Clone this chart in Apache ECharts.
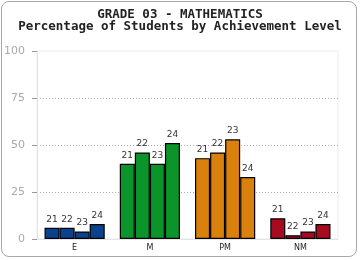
<!DOCTYPE html>
<html><head><meta charset="utf-8">
<script src="https://cdn.jsdelivr.net/npm/echarts@6/dist/echarts.min.js"></script>
<style>
html,body{margin:0;padding:0;background:#fff;}
#frame{position:absolute;left:1px;top:1px;width:356px;height:256px;border:1px solid #a8a8a8;border-radius:8px;box-sizing:border-box;}
#c{position:absolute;left:0;top:0;width:360px;height:260px;}
</style>
</head><body>
<div id="frame"></div>
<div id="c"></div>
<script>
var titleLines = ['GRADE 03 - MATHEMATICS', 'Percentage of Students by Achievement Level'];
var categories = ['E', 'M', 'PM', 'NM'];
var categoryColors = ['#0b4290', '#0b9429', '#da800c', '#a60b20'];
var years = ['21', '22', '23', '24'];
var values = {
  '21': [6, 40, 43, 11],
  '22': [6, 46, 46, 2],
  '23': [4, 40, 53, 4],
  '24': [8, 51, 33, 8]
};
var yTicks = [0, 25, 50, 75, 100];

var chart = echarts.init(document.getElementById('c'), null, {renderer: 'canvas'});
var series = years.map(function (y) {
  return {
    name: y,
    type: 'bar',
    barGap: '0%',
    barCategoryGap: '20%',
    data: values[y].map(function (v, i) {
      return {value: v, itemStyle: {color: categoryColors[i]}};
    }),
    itemStyle: {borderColor: '#000', borderWidth: 1.2},
    label: {
      show: true, position: 'top', distance: 4,
      formatter: function (p) { return p.seriesName; },
      fontSize: 9, color: '#333', fontFamily: 'DejaVu Sans'
    },
    emphasis: {disabled: true}
  };
});

chart.setOption({
  animation: false,
  title: {
    text: titleLines.join('\n'),
    left: 'center', top: 4,
    textStyle: {fontFamily: 'DejaVu Sans Mono', fontWeight: 'bold', fontSize: 12.5, lineHeight: 12, color: '#222'}
  },
  grid: {left: 37, right: 22, top: 51, bottom: 21, show: true, borderColor: '#ececec', borderWidth: 1, backgroundColor: 'transparent'},
  xAxis: {
    type: 'category', data: categories,
    axisLine: {show: true, lineStyle: {color: '#e4e4e4'}},
    axisTick: {show: false},
    axisLabel: {fontSize: 8, color: '#222', margin: 5, fontFamily: 'DejaVu Sans'}
  },
  yAxis: {
    type: 'value', min: yTicks[0], max: yTicks[yTicks.length - 1], interval: 25,
    axisLine: {show: true, lineStyle: {color: '#e4e4e4'}},
    axisTick: {show: true, length: 5, lineStyle: {color: '#999'}},
    axisLabel: {fontSize: 11, color: '#aaa', margin: 12, fontFamily: 'DejaVu Sans'},
    splitLine: {show: true, lineStyle: {type: [1, 2], color: ['rgba(0,0,0,0)', '#aaa', '#aaa', '#aaa', 'rgba(0,0,0,0)']}}
  },
  series: series
});
</script>
</body></html>
